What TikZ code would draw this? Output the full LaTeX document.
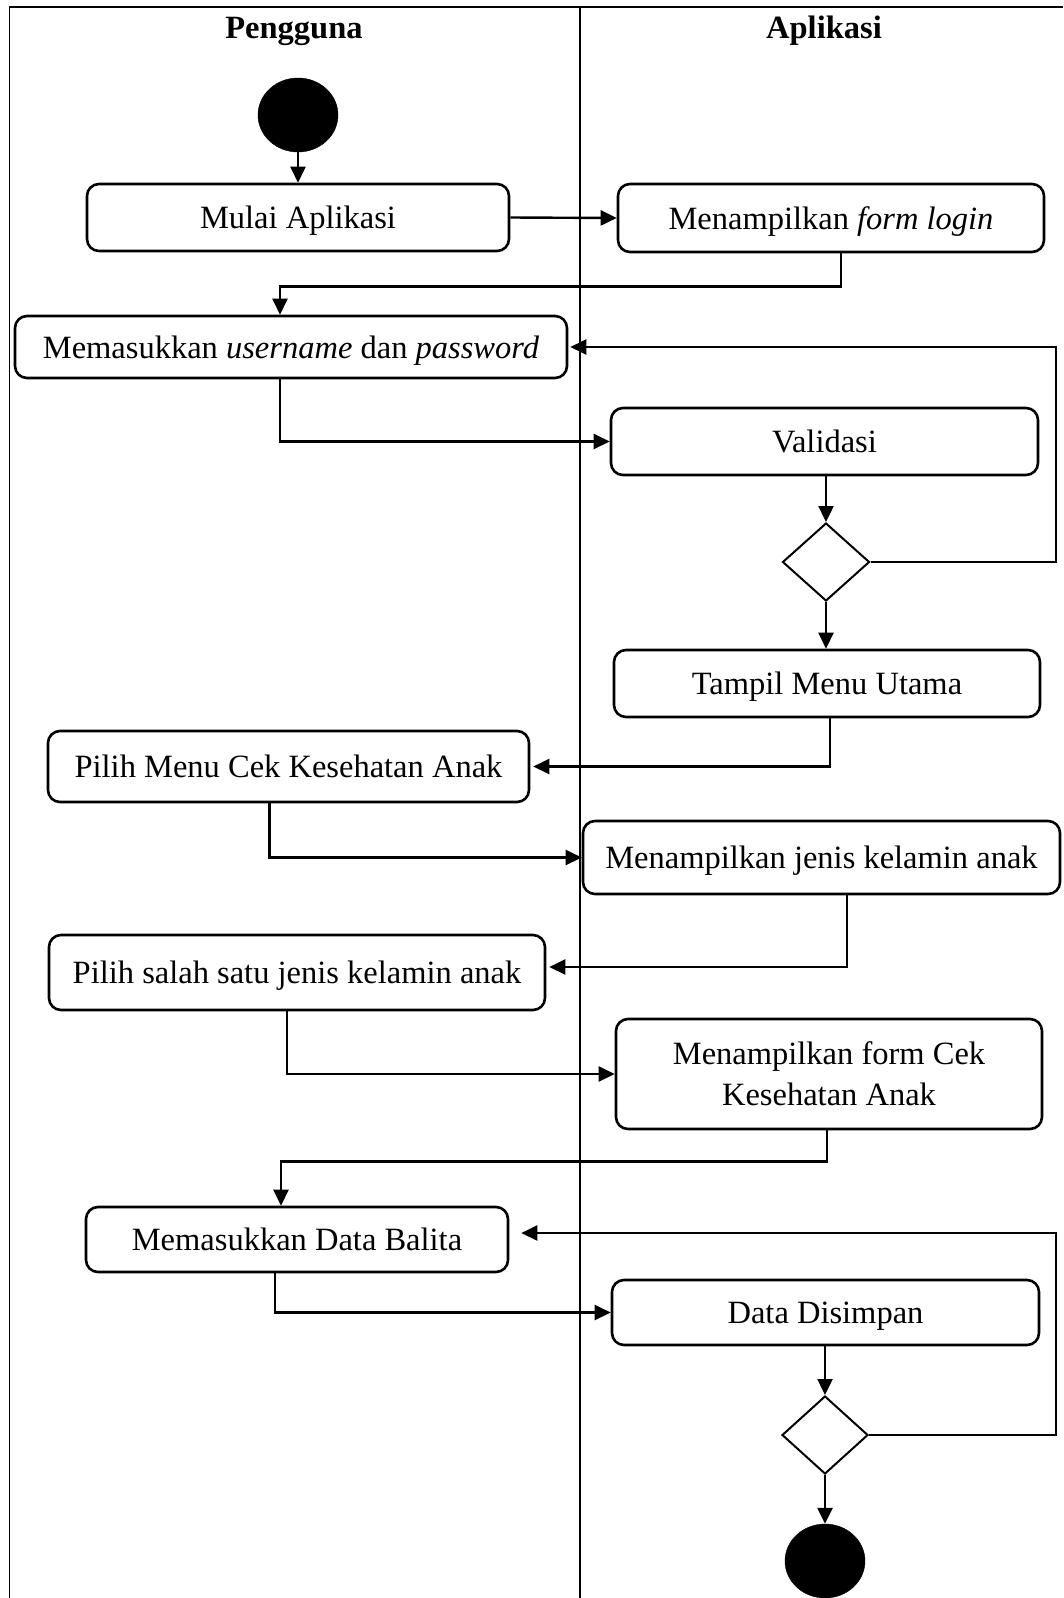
\documentclass[tikz,border=0pt]{standalone}
\usepackage{fontspec}
\setmainfont{Liberation Serif}
\usetikzlibrary{arrows.meta,shapes.geometric}

\tikzset{
  act/.style={draw, line width=2.6pt, rounded corners=12pt, inner sep=0pt,
    align=center, text depth=0pt, font=\fontsize{32.5}{41}\selectfont},
  dec/.style={draw, diamond, line width=2pt, inner sep=0pt, aspect=1.1},
  dot/.style={draw, ellipse, fill=black, inner sep=0pt},
  flow/.style={line width=2.4pt, -{Triangle[length=16pt,width=15pt]}},
  lane/.style={line width=1.8pt},
  lanetitle/.style={font=\fontsize{32.5}{38}\selectfont\bfseries}
}

\begin{document}
\begin{tikzpicture}[x=1pt,y=-1pt]
  \useasboundingbox (0,0) rectangle (1063,1598);

  % swimlanes
  \draw[lane] (9.5,1598) -- (9.5,7) -- (1063,7);
  \draw[lane] (580,7) -- (580,1598);
  \node[lanetitle] (lane1) at (294,31) {Pengguna};
  \node[lanetitle] (lane2) at (824,31) {Aplikasi};
  \coordinate (rail) at (1056,0);

  % activities
  \node[dot, minimum width=80pt, minimum height=74pt] (start) at (298,115) {};
  \node[act, minimum width=422pt, minimum height=67pt] (mulai) at (298,217.5) {Mulai Aplikasi};
  \node[act, minimum width=426pt, minimum height=68pt] (form) at (831,218) {Menampilkan \textit{form login}};
  \node[act, minimum width=552pt, minimum height=62pt] (user) at (291,347) {Memasukkan \textit{username} dan \textit{password}};
  \node[act, minimum width=427pt, minimum height=67pt] (valid) at (824.5,441.5) {Validasi};
  \node[dec, minimum width=87pt, minimum height=78pt] (dec1) at (826,562) {};
  \node[act, minimum width=426pt, minimum height=67pt] (tampil) at (827,683.5) {Tampil Menu Utama};
  \node[act, minimum width=481pt, minimum height=71pt] (pilih) at (288.5,766.5) {Pilih Menu Cek Kesehatan Anak};
  \node[act, minimum width=477pt, minimum height=73pt] (jenis) at (821.5,857.5) {Menampilkan jenis kelamin anak};
  \node[act, minimum width=496pt, minimum height=75pt] (salah) at (297,972.5) {Pilih salah satu jenis kelamin anak};
  \node[act, minimum width=426pt, minimum height=110pt] (formcek) at (829,1074) {Menampilkan form Cek\\Kesehatan Anak};
  \node[act, minimum width=422pt, minimum height=65pt] (balita) at (297,1239.5) {Memasukkan Data Balita};
  \node[act, minimum width=427pt, minimum height=65pt] (simpan) at (825.5,1312.5) {Data Disimpan};
  \node[dec, minimum width=86pt, minimum height=78pt] (dec2) at (825,1435) {};
  \node[dot, minimum width=80pt, minimum height=74pt] (end) at (825,1561) {};

  % control flow
  \draw[flow] (start) -- (mulai);
  \draw[flow] (mulai.east) -- (form.west);
  \draw[flow] ([xshift=10pt]form.south) -- ++(0,33) -| ([xshift=-11pt]user.north);
  \draw[flow] ([xshift=-11pt]user.south) |- (valid.west);
  \draw[flow] (valid.south -| dec1.north) -- (dec1.north);
  \draw[flow, shorten >=2pt] (dec1.east) -- (dec1.east -| rail) |- (user.east);
  \draw[flow] (dec1.south) -- (tampil.north -| dec1.south);
  \draw[flow, shorten >=3pt] ([xshift=3pt]tampil.south) |- (pilih.east);
  \draw[flow] ([xshift=-19pt]pilih.south) |- (jenis.west);
  \draw[flow, shorten >=3pt] ([xshift=25.5pt]jenis.south) |- ([yshift=5.5pt]salah.east);
  \draw[flow] ([xshift=-10pt]salah.south) |- (formcek.west);
  \draw[flow] ([xshift=-2pt]formcek.south) -- ++(0,31) -| ([xshift=-16pt]balita.north);
  \draw[flow] ([xshift=-22pt]balita.south) |- (simpan.west);
  \draw[flow] (simpan.south -| dec2.north) -- (dec2.north);
  \draw[flow, shorten >=12pt] (dec2.east) -- (dec2.east -| rail) |- ([yshift=6.5pt]balita.east);
  \draw[flow] (dec2.south) -- (end.north);
\end{tikzpicture}
\end{document}
